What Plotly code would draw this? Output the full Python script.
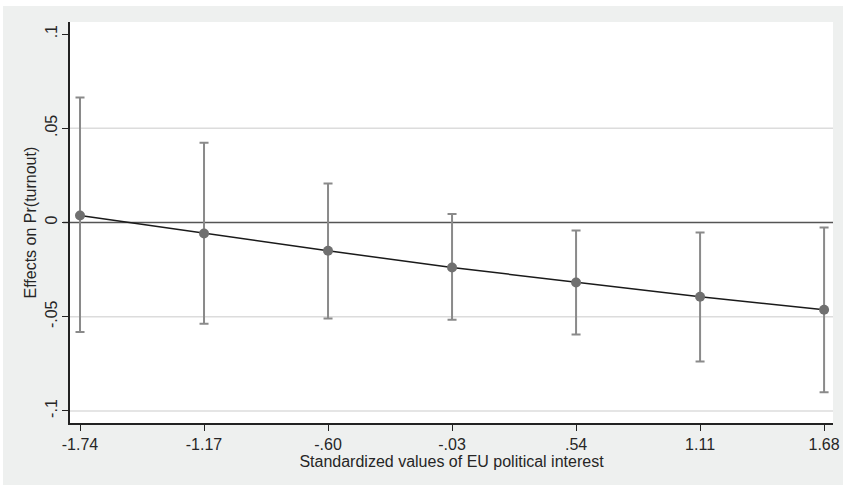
import plotly.graph_objects as go

x_vals = [-1.74, -1.17, -0.60, -0.03, 0.54, 1.11, 1.68]
x_labels = ["-1.74", "-1.17", "-.60", "-.03", ".54", "1.11", "1.68"]
effects = [0.0037, -0.0058, -0.0150, -0.0239, -0.0318, -0.0394, -0.0463]
ci_upper = [0.0663, 0.0423, 0.0207, 0.0045, -0.0042, -0.0053, -0.0027]
ci_lower = [-0.0581, -0.0537, -0.0510, -0.0516, -0.0594, -0.0737, -0.0901]
y_ticks = [-0.1, -0.05, 0, 0.05, 0.1]
y_labels = ["-.1", "-.05", "0", ".05", ".1"]
grid_vals = [-0.1, -0.05, 0.05]

err_plus = [u - e for u, e in zip(ci_upper, effects)]
err_minus = [e - l for l, e in zip(ci_lower, effects)]

fig = go.Figure()
fig.add_trace(go.Scatter(
    x=x_vals, y=effects, mode="lines",
    line=dict(color="#1a1a1a", width=1.5), showlegend=False))
fig.add_trace(go.Scatter(
    x=x_vals, y=effects, mode="markers",
    marker=dict(size=10, color="#707070"),
    error_y=dict(type="data", array=err_plus, arrayminus=err_minus,
                 color="#8a8a8a", thickness=2, width=4.5, symmetric=False),
    showlegend=False))

W, H = 843, 485
ML, MR, MT, MB = 70, 10, 22, 62
pw, ph = W - ML - MR, H - MT - MB

def px_x(p):
    return (p - ML) / pw

def px_y(p):
    return (H - MB - p) / ph

shapes = []
for g in grid_vals:
    shapes.append(dict(type="line", xref="paper", yref="y", x0=0, x1=1, y0=g, y1=g,
                       line=dict(color="#dcdcdc", width=1.5), layer="below"))
shapes.append(dict(type="line", xref="paper", yref="y", x0=px_x(63), x1=1, y0=0, y1=0,
                   line=dict(color="#555555", width=1.5), layer="below"))
shapes.append(dict(type="rect", xref="paper", yref="paper", x0=px_x(0), x1=px_x(W),
                   y0=px_y(6), y1=px_y(0), fillcolor="white", line=dict(width=0)))
shapes.append(dict(type="rect", xref="paper", yref="paper", x0=px_x(0), x1=px_x(3),
                   y0=px_y(H), y1=px_y(0), fillcolor="white", line=dict(width=0)))

font = "Liberation Sans, Arial, sans-serif"
fig.update_layout(
    width=W, height=H,
    margin=dict(l=ML, r=MR, t=MT, b=MB, autoexpand=False),
    paper_bgcolor="#eef0ef", plot_bgcolor="white",
    font=dict(family=font, size=16, color="#262626"),
    shapes=shapes,
    annotations=[dict(text="Effects on Pr(turnout)", xref="paper", yref="paper",
                      x=px_x(30), y=0.5, xanchor="center", yanchor="middle",
                      textangle=-90, showarrow=False, font=dict(size=16))],
    xaxis=dict(range=[-1.786, 1.721], tickvals=x_vals, ticktext=x_labels,
               showgrid=False, zeroline=False, showline=True, linecolor="#222222",
               linewidth=1.5, ticks="outside", ticklen=6, tickcolor="#222222",
               tickfont=dict(size=16),
               title=dict(text="Standardized values of EU political interest",
                          font=dict(size=16), standoff=0)),
    yaxis=dict(range=[-0.1064, 0.1064], tickvals=y_ticks, ticktext=y_labels,
               showgrid=False, zeroline=False, showline=True, linecolor="#222222",
               linewidth=1.5, ticks="outside", ticklen=6, tickcolor="#222222",
               tickangle=-90, tickfont=dict(size=16), ticklabelstandoff=-1),
)
fig.write_html("out.html", config={"displayModeBar": False},
               post_script="document.body.style.margin='0';")
